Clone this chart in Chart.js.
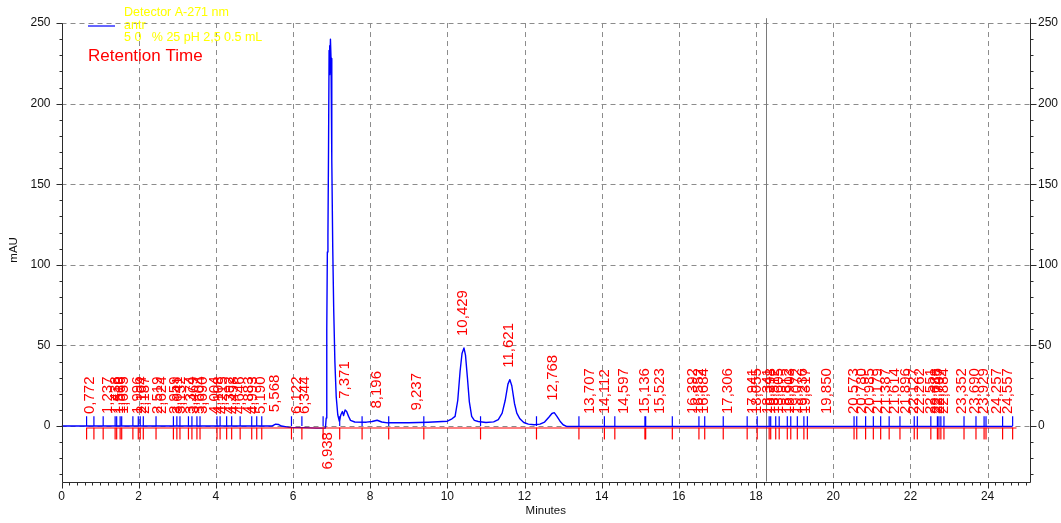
<!DOCTYPE html>
<html>
<head>
<meta charset="utf-8">
<script src="https://cdn.jsdelivr.net/npm/chart.js@4.4.1/dist/chart.umd.min.js"></script>
<style>
  html, body { margin: 0; padding: 0; background: #ffffff; overflow: hidden; }
  #wrap { position: relative; width: 1061px; height: 523px; }
</style>
</head>
<body>
<div id="wrap"><canvas id="chrom" width="1061" height="523"></canvas></div>
<script>
// Detector trace (minutes, mAU)
const signalTime = [
  0, 0.6, 1.0, 2.0, 3.0, 4.0, 5.0, 5.45, 5.55, 5.62, 5.7, 5.9, 6.3, 6.6, 6.84,
  6.86, 6.875, 6.89, 6.905, 6.92, 6.935, 6.945, 6.955, 6.97, 6.985, 7.005,
  7.03, 7.055, 7.085, 7.12, 7.16, 7.20, 7.24, 7.28, 7.31, 7.35, 7.39, 7.44, 7.49,
  7.6, 7.9, 8.05, 8.18, 8.3, 8.45, 9.0, 9.5, 10.0, 10.12, 10.2, 10.27, 10.33,
  10.38, 10.43, 10.47, 10.52, 10.57, 10.63, 10.7, 10.8, 11.0, 11.2, 11.32, 11.42,
  11.5, 11.57, 11.62, 11.67, 11.74, 11.8, 11.88, 11.98, 12.1, 12.25, 12.4, 12.52,
  12.63, 12.71, 12.77, 12.84, 12.92, 13.0, 13.1, 14.0, 16.0, 18.0, 20.0, 22.0,
  24.0, 24.65
];
const signalValue = [
  0, 0, 0, 0, 0, 0, 0, 0, 1.2, 1.0, 0, -0.8, -1.0, -1.3, -1.2,
  5, 60, 108, 118, 170, 233, 236, 218, 240, 228, 165,
  110, 72, 40, 18, 7, 3, 7, 9, 6.5, 10, 9, 6, 3.5,
  2.5, 2.4, 2.8, 3.6, 2.5, 2.0, 2.0, 2.4, 3.0, 4.5, 6, 16, 34,
  45, 48.5, 44, 30, 15, 6, 3.5, 2.8, 2.2, 2.6, 4, 8,
  16, 26, 28.8, 25, 14, 8, 4.5, 2.2, 1.2, 0.8, 1.2, 2.5,
  5.5, 7.8, 8.3, 6, 3, 0.8, -0.3, -0.3, -0.3, -0.3, -0.3, -0.3,
  -0.3, -0.3
];

// Integration baseline (minutes, mAU)
const baselineTime = [0.65, 24.75];
const baselineValue = [-1.2, -1.2];

// Peak start / end events (minutes)
const eventTimes = [
  0.65, 0.84, 1.08, 1.39, 1.43, 1.52, 1.56, 1.85, 1.99, 2.04, 2.12, 2.45, 2.90,
  2.99, 3.07, 3.29, 3.38, 3.51, 3.59, 4.03, 4.11, 4.28, 4.41, 4.63, 4.93, 5.06,
  5.19, 5.96, 6.23, 6.78, 7.21, 7.79, 8.48, 9.39, 10.86, 12.31, 13.41, 14.07,
  14.34, 15.12, 15.14, 15.83, 16.52, 16.67, 17.15, 17.77, 18.03, 18.34, 18.38,
  18.51, 18.60, 18.81, 18.90, 19.07, 19.24, 19.33, 20.54, 20.61, 20.84, 21.04,
  21.23, 21.45, 21.73, 22.10, 22.18, 22.53, 22.70, 22.74, 22.79, 22.87, 23.39,
  23.70, 23.91, 23.96, 24.39, 24.65
];

// Retention times of the labelled peaks (minutes)
const retentionTimes = [
  0.772, 1.237, 1.438, 1.519, 1.566, 1.655, 1.996, 2.104, 2.187, 2.519, 2.624,
  2.959, 3.041, 3.132, 3.374, 3.469, 3.604, 3.690, 4.004, 4.108, 4.215, 4.392,
  4.498, 4.646, 4.883, 4.993, 5.190, 5.568, 6.122, 6.344,
  6.938, 7.371, 8.196, 9.237, 10.429, 11.621, 12.768, 13.707, 14.112, 14.597,
  15.136, 15.523, 16.392, 16.552, 16.684, 17.306, 17.941, 18.055, 18.341,
  18.398, 18.512, 18.605, 18.812, 18.903, 19.072, 19.236, 19.317, 19.850,
  20.573, 20.780, 20.985, 21.179, 21.387, 21.614, 21.896, 22.127, 22.262,
  22.551, 22.688, 22.745, 22.797, 22.884, 23.352, 23.690, 23.929, 24.257, 24.557
];

const legendLines = ['Detector A-271 nm', 'antr', '5 0   % 25 pH 2,5 0.5 mL'];
const legendTitle = 'Retention Time';
const cursorTime = 18.26;

const xRange = [0, 25.1];
const yRange = [-34.4, 253];
const yGridValues = [0, 50, 100, 150, 200, 250];
const xGridValues = [2, 4, 6, 8, 10, 12, 14, 16, 18, 20, 22, 24];

const BLUE = '#0000ff';
const RED = '#ff0000';
const AXIS = '#2b2b2b';
const TICK_FONT = { family: 'Liberation Sans, Arial, sans-serif', size: 12 };

function zip(xs, ys) { return xs.map((x, i) => ({ x, y: ys[i] })); }
function signalAt(t) {
  for (let i = 1; i < signalTime.length; i++) {
    if (t <= signalTime[i]) {
      const t0 = signalTime[i - 1], t1 = signalTime[i];
      const f = (t - t0) / (t1 - t0);
      return signalValue[i - 1] + f * (signalValue[i] - signalValue[i - 1]);
    }
  }
  return signalValue[signalValue.length - 1];
}
function segments(times, y0, y1) {
  const out = [];
  times.forEach(t => { out.push({ x: t, y: y0 }, { x: t, y: y1 }, { x: t, y: null }); });
  return out;
}

// Dashed grid, cursor line, axis lines and tick marks
const frame = {
  id: 'frame',
  beforeDatasetsDraw(chart) {
    const { ctx, chartArea: a, scales: { x, y } } = chart;
    ctx.save();
    ctx.strokeStyle = '#8c8c8c';
    ctx.lineWidth = 1;
    ctx.setLineDash([5, 4]);
    yGridValues.forEach(v => {
      const py = Math.round(y.getPixelForValue(v)) + 0.5;
      ctx.beginPath(); ctx.moveTo(a.left, py); ctx.lineTo(a.right, py); ctx.stroke();
    });
    xGridValues.forEach(v => {
      const px = Math.round(x.getPixelForValue(v)) + 0.5;
      ctx.beginPath(); ctx.moveTo(px, y.getPixelForValue(250)); ctx.lineTo(px, a.bottom); ctx.stroke();
    });
    ctx.setLineDash([]);
    ctx.strokeStyle = '#7a7a7a';
    const cx = Math.round(x.getPixelForValue(cursorTime)) + 0.5;
    ctx.beginPath(); ctx.moveTo(cx, a.top); ctx.lineTo(cx, a.bottom); ctx.stroke();
    ctx.restore();
  },
  afterDraw(chart) {
    const { ctx, chartArea: a, scales: { x, y } } = chart;
    ctx.save();
    ctx.strokeStyle = AXIS;
    ctx.lineWidth = 1;
    const L = Math.round(a.left) + 0.5, R = Math.round(a.right) + 0.5, B = Math.round(a.bottom) + 0.5;
    const top250 = Math.round(y.getPixelForValue(250)) + 0.5;
    ctx.beginPath();
    ctx.moveTo(L, top250); ctx.lineTo(L, B); ctx.lineTo(R, B); ctx.lineTo(R, Math.round(a.top) + 0.5);
    ctx.stroke();
    ctx.beginPath();
    for (let v = -30; v <= 250; v += 10) {
      const py = Math.round(y.getPixelForValue(v)) + 0.5;
      const len = v % 50 === 0 ? 6 : 3;
      ctx.moveTo(L - len, py); ctx.lineTo(L, py);
      ctx.moveTo(R, py); ctx.lineTo(R + len, py);
    }
    for (let k = 0; k <= 125; k++) {
      const v = k * 0.2;
      if (v > xRange[1]) break;
      const px = Math.round(x.getPixelForValue(v)) + 0.5;
      const len = k % 10 === 0 ? 6 : 3;
      ctx.moveTo(px, B); ctx.lineTo(px, B + len);
    }
    ctx.stroke();
    ctx.restore();
  }
};

// Rotated retention-time labels above (or below) each peak
const peakLabels = {
  id: 'peakLabels',
  afterDatasetsDraw(chart) {
    const { ctx, chartArea: a, scales: { x, y } } = chart;
    ctx.save();
    ctx.fillStyle = RED;
    ctx.font = '15px "Liberation Sans", Arial, sans-serif';
    ctx.textBaseline = 'middle';
    const gap = 12;
    retentionTimes.forEach(t => {
      const text = t.toFixed(3).replace('.', ',');
      const w = ctx.measureText(text).width;
      const px = x.getPixelForValue(t) - 1;
      const py = y.getPixelForValue(Math.max(signalAt(t), 0));
      ctx.save();
      if (py - gap - w < a.top) {
        ctx.translate(px, y.getPixelForValue(0) + 6);
        ctx.rotate(-Math.PI / 2);
        ctx.textAlign = 'right';
      } else {
        ctx.translate(px, py - gap);
        ctx.rotate(-Math.PI / 2);
        ctx.textAlign = 'left';
      }
      ctx.fillText(text, 0, 0);
      ctx.restore();
    });
    ctx.restore();
  }
};

// Trace legend in the upper-left corner
const traceLegend = {
  id: 'traceLegend',
  afterDraw(chart) {
    const { ctx } = chart;
    ctx.save();
    ctx.strokeStyle = '#3333ff';
    ctx.lineWidth = 1.5;
    ctx.beginPath(); ctx.moveTo(88, 26); ctx.lineTo(115, 26); ctx.stroke();
    ctx.fillStyle = '#ffff00';
    ctx.font = '12.5px "Liberation Sans", Arial, sans-serif';
    ctx.textBaseline = 'middle';
    ctx.textAlign = 'left';
    legendLines.forEach((s, i) => ctx.fillText(s, 124, 13 + i * 12.5));
    ctx.fillStyle = RED;
    ctx.font = '17px "Liberation Sans", Arial, sans-serif';
    ctx.fillText(legendTitle, 88, 56);
    ctx.restore();
  }
};

const yScaleBase = {
  type: 'linear',
  min: yRange[0],
  max: yRange[1],
  grid: { display: false, drawTicks: false },
  border: { display: false },
  ticks: {
    stepSize: 50,
    includeBounds: false,
    color: '#111',
    font: TICK_FONT,
    autoSkip: false
  }
};

new Chart(document.getElementById('chrom'), {
  type: 'line',
  data: {
    datasets: [
      {
        label: 'ticks-up',
        data: segments(eventTimes, 0, 6),
        borderColor: BLUE, borderWidth: 1.2, pointRadius: 0, spanGaps: false, order: 0
      },
      {
        label: 'ticks-down',
        data: segments(eventTimes, -1.2, -8),
        borderColor: RED, borderWidth: 1.2, pointRadius: 0, spanGaps: false, order: 0
      },
      {
        label: 'baseline',
        data: zip(baselineTime, baselineValue),
        borderColor: RED, borderWidth: 1.2, pointRadius: 0, order: 1
      },
      {
        label: 'antr',
        data: zip(signalTime, signalValue),
        borderColor: BLUE, borderWidth: 1.4, pointRadius: 0, tension: 0, order: 2
      }
    ]
  },
  options: {
    responsive: false,
    animation: false,
    devicePixelRatio: 1,
    layout: { padding: { top: 5, left: 0, right: 0, bottom: 0 } },
    plugins: { legend: { display: false }, tooltip: { enabled: false } },
    elements: { line: { borderJoinStyle: 'round' } },
    scales: {
      x: {
        type: 'linear',
        position: 'bottom',
        min: xRange[0],
        max: xRange[1],
        grid: { display: false, drawTicks: false },
        border: { display: false },
        ticks: {
          stepSize: 2, includeBounds: false, autoSkip: false, maxRotation: 0,
          padding: 8, color: '#111', font: TICK_FONT
        },
        title: {
          display: true, text: 'Minutes', color: '#111',
          font: { family: 'Liberation Sans, Arial, sans-serif', size: 11.5 },
          padding: { top: 0, bottom: 5 }
        },
        afterFit(s) { s.height = 41.5; }
      },
      y: Object.assign({}, yScaleBase, {
        position: 'left',
        ticks: Object.assign({}, yScaleBase.ticks, { padding: 11 }),
        title: {
          display: true, text: 'mAU', color: '#111',
          font: { family: 'Liberation Sans, Arial, sans-serif', size: 11.5 },
          padding: { top: 7, bottom: 0 }
        },
        afterFit(s) { s.width = 61.5; }
      }),
      y2: Object.assign({}, yScaleBase, {
        position: 'right',
        ticks: Object.assign({}, yScaleBase.ticks, { padding: 8 }),
        afterFit(s) { s.width = 31; }
      })
    }
  },
  plugins: [frame, peakLabels, traceLegend]
});
</script>
</body>
</html>
